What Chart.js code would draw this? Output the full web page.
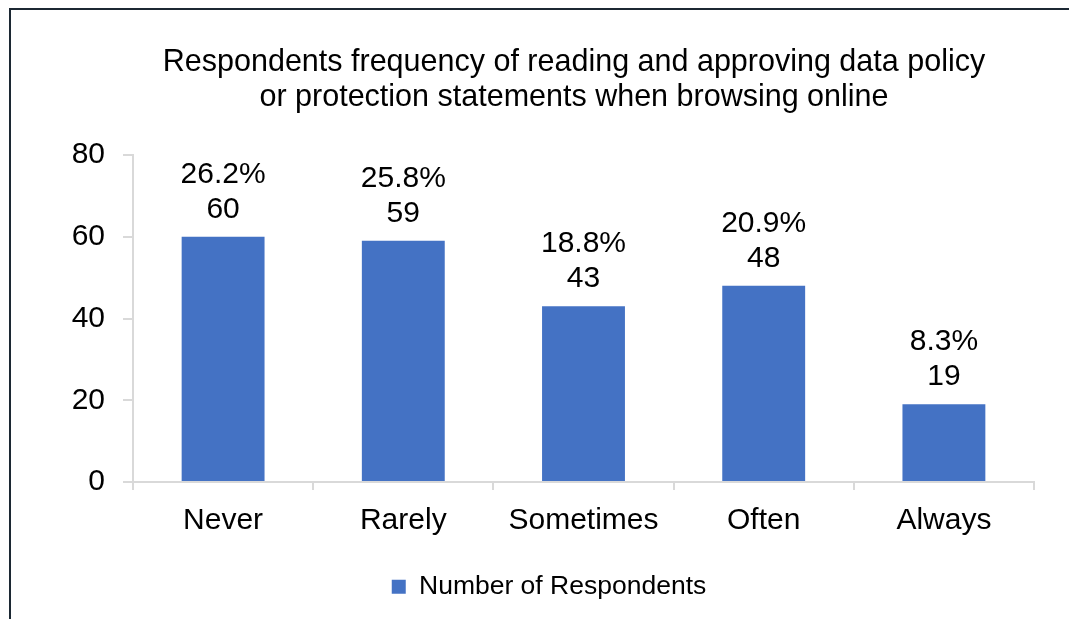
<!DOCTYPE html>
<html>
<head>
<meta charset="utf-8">
<script src="https://cdn.jsdelivr.net/npm/chart.js@4"></script>
<style>
  html, body { margin: 0; padding: 0; background: #fff; }
  #wrap { position: relative; width: 1069px; height: 619px; overflow: hidden; }
  #frame {
    position: absolute; left: 9px; top: 8px; width: 1200px; height: 800px;
    border-left: 2px solid #1c2833; border-top: 2px solid #1c2833;
  }
  canvas { position: absolute; left: 0; top: 0; }
</style>
</head>
<body>
<div id="wrap">
  <div id="frame"></div>
  <canvas id="chart" width="1069" height="619"></canvas>
</div>
<script>
  const categories = ["Never", "Rarely", "Sometimes", "Often", "Always"];
  const respondents = [60, 59, 43, 48, 19];
  const percentLabels = ["26.2%", "25.8%", "18.8%", "20.9%", "8.3%"];
  const yTicks = [0, 20, 40, 60, 80];
  const titleLines = ["Respondents frequency of reading and approving data policy",
                      "or protection statements when browsing online"];

  const FONT = "'Liberation Sans', Arial, sans-serif";

  // two-line title, centred a little right of the legend
  const chartTitle = {
    id: "chartTitle",
    afterDraw(chart) {
      const ctx = chart.ctx;
      ctx.save();
      ctx.fillStyle = "#000";
      ctx.font = "30.5px " + FONT;
      ctx.textAlign = "center";
      ctx.textBaseline = "alphabetic";
      titleLines.forEach((line, i) => ctx.fillText(line, 574, 71 + i * 35));
      ctx.restore();
    }
  };

  // two-line value labels above each bar: percentage, then count
  const barLabels = {
    id: "barLabels",
    afterDatasetsDraw(chart) {
      const ctx = chart.ctx;
      const meta = chart.getDatasetMeta(0);
      ctx.save();
      ctx.fillStyle = "#000";
      ctx.font = "30px " + FONT;
      ctx.textAlign = "center";
      ctx.textBaseline = "alphabetic";
      meta.data.forEach((bar, i) => {
        ctx.fillText(String(respondents[i]), bar.x, bar.y - 19);
        ctx.fillText(percentLabels[i], bar.x, bar.y - 54);
      });
      ctx.restore();
    }
  };

  new Chart(document.getElementById("chart").getContext("2d"), {
    type: "bar",
    data: {
      labels: categories,
      datasets: [{
        label: "Number of Respondents",
        data: respondents,
        backgroundColor: "#4472c4",
        barPercentage: 0.46,
        categoryPercentage: 1.0
      }]
    },
    options: {
      responsive: false,
      animation: false,
      layout: { padding: { left: 64, right: 35, top: 155, bottom: 9 } },
      plugins: {
        title: { display: false },
        legend: {
          position: "bottom",
          labels: {
            color: "#000",
            font: { family: FONT, size: 26.5 },
            boxWidth: 14,
            boxHeight: 14,
            padding: 10
          }
        },
        tooltip: { enabled: false }
      },
      scales: {
        x: {
          grid: {
            drawOnChartArea: false,
            drawTicks: true,
            tickLength: 8,
            color: "#d9d9d9",
            lineWidth: 2
          },
          border: { color: "#d9d9d9", width: 2 },
          ticks: {
            color: "#000",
            font: { family: FONT, size: 30 },
            padding: 13,
            maxRotation: 0
          },
          afterFit(scale) { scale.height = 81.5; }
        },
        y: {
          min: 0,
          max: 80,
          afterBuildTicks(scale) { scale.ticks = yTicks.map(v => ({ value: v })); },
          grid: {
            drawOnChartArea: false,
            drawTicks: true,
            tickLength: 10,
            color: "#d9d9d9",
            lineWidth: 2
          },
          border: { color: "#d9d9d9", width: 2 },
          ticks: {
            color: "#000",
            font: { family: FONT, size: 30 },
            padding: 18
          },
          afterFit(scale) { scale.width = 133 - 64; }
        }
      }
    },
    plugins: [barLabels, chartTitle]
  });
</script>
</body>
</html>
